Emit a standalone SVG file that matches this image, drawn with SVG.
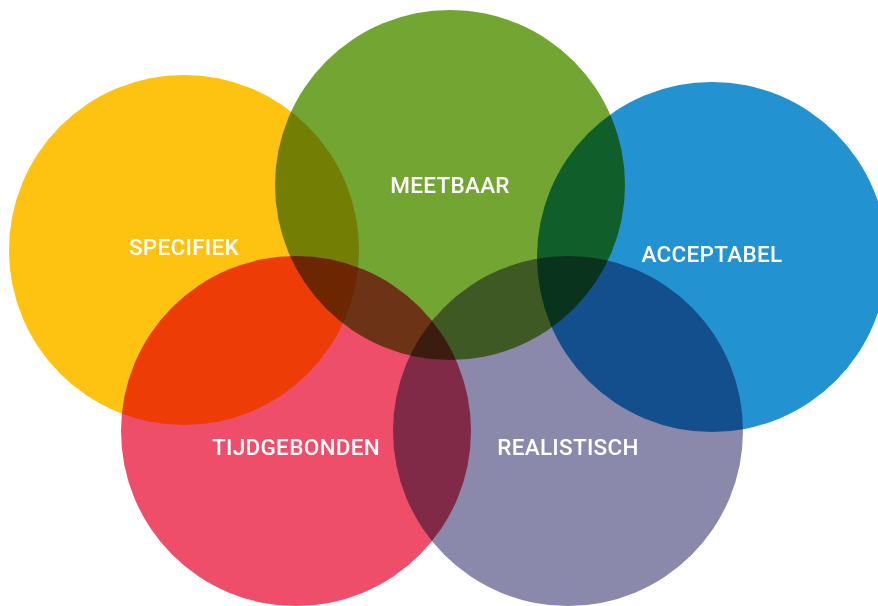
<svg xmlns="http://www.w3.org/2000/svg" width="878" height="606" viewBox="0 0 878 606">
<style>
.c{mix-blend-mode:multiply}
.t{font-family:Roboto,"Liberation Sans",sans-serif;font-weight:500;font-size:22.5px;letter-spacing:0.3px;fill:#ffffff;text-anchor:middle}
</style>
<rect width="878" height="606" fill="#ffffff"/>
<g id="specifiek"><circle class="c" cx="184" cy="250" r="175" fill="#FEC210"/><text class="t" x="184" y="255">SPECIFIEK</text></g>
<g id="meetbaar"><circle class="c" cx="450" cy="185" r="175" fill="#73A533"/><text class="t" x="450" y="193">MEETBAAR</text></g>
<g id="acceptabel"><circle class="c" cx="712" cy="257" r="175" fill="#2292D0"/><text class="t" x="712" y="262">ACCEPTABEL</text></g>
<g id="tijdgebonden"><circle class="c" cx="296" cy="431" r="175" fill="#EF4E6B"/><text class="t" x="296" y="455">TIJDGEBONDEN</text></g>
<g id="realistisch"><circle class="c" cx="568" cy="431" r="175" fill="#8A89AC"/><text class="t" x="568" y="455">REALISTISCH</text></g>
<g id="connectors"/>
</svg>
